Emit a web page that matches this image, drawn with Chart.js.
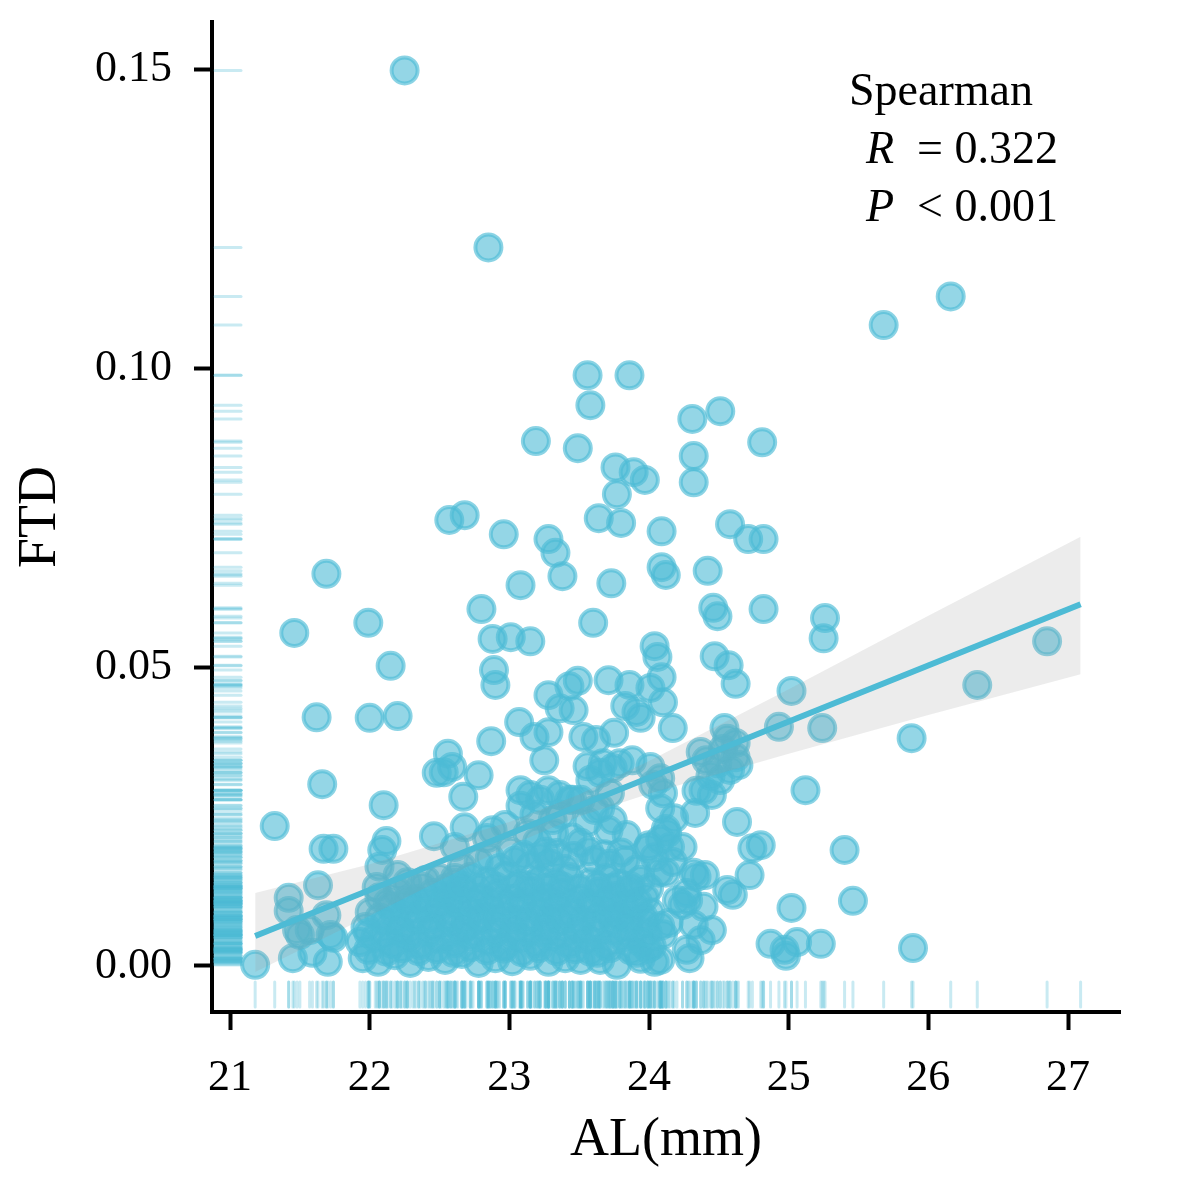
<!DOCTYPE html>
<html>
<head>
<meta charset="utf-8">
<script src="https://cdn.jsdelivr.net/npm/chart.js@4.4.1/dist/chart.umd.min.js"></script>
<style>
  html, body { margin: 0; padding: 0; background: #fff; }
  #wrap { width: 1181px; height: 1181px; }
</style>
</head>
<body>
<div id="wrap"><canvas id="chart"></canvas></div>
<script>
// AL (mm) of each eye
const alMm = [
  22.25, 22.85, 26.16, 25.68, 23.56, 23.86, 23.58, 24.31, 24.51, 23.19, 23.49, 24.81, 24.32, 24.32, 23.76, 23.89, 23.97, 23.77, 22.57, 22.68,
  23.64, 23.80, 24.09, 22.96, 24.58, 24.71, 24.82, 23.28, 23.33, 21.69, 23.38, 23.08, 23.73, 24.09, 24.12, 24.42, 22.80, 24.46, 24.49, 24.82,
  25.26, 25.25, 21.99, 21.46, 23.60, 22.88, 23.01, 23.15, 26.85, 22.15, 22.89, 22.90, 24.04, 24.06, 24.09, 24.47, 24.57, 24.62, 23.71, 23.86,
  24.01, 24.10, 23.28, 23.43, 23.49, 23.36, 23.46, 23.83, 23.91, 23.94, 24.17, 25.02, 26.35, 21.62, 22.00, 22.20, 23.07, 23.18, 23.28, 23.53,
  23.62, 23.75, 22.87, 24.54, 24.56, 24.93, 25.24, 25.88, 22.56, 22.59, 23.25, 22.48, 22.53, 22.78, 21.66, 22.67, 22.10, 21.32, 25.12,
  25.40, 25.46, 25.02, 25.23, 25.89, 21.18, 24.63, 24.80, 24.74, 24.60, 24.56, 24.87, 24.97, 25.06, 24.98, 21.42, 21.42, 21.45, 21.50, 21.63,
  21.67, 21.74, 21.57, 21.69, 21.70, 21.72, 21.74, 21.48, 22.12, 22.09, 22.07, 22.05, 21.59, 22.46, 22.68, 22.88, 22.84, 22.61, 22.20, 22.40, 22.61, 22.27, 22.58,
  23.08, 23.15, 23.28, 23.36, 23.43, 23.51, 23.08, 23.18, 23.37, 23.61, 23.56, 23.71, 23.84, 24.00, 24.04, 24.07, 24.17, 24.24, 24.32, 24.40, 24.27, 24.24, 24.32, 24.39, 24.45, 24.29, 24.27,
  23.88, 24.01, 24.08, 24.10, 24.08, 24.18, 24.12, 23.74, 23.65, 23.56, 23.58, 23.45, 24.37, 24.41, 24.44, 24.49, 24.53, 24.62, 24.64, 24.58, 24.51, 24.39, 24.45, 24.34, 24.62, 24.33, 24.15, 24.08, 24.72, 24.34,
  24.28, 24.37, 23.67, 23.79, 23.22, 23.72, 24.03, 23.65, 23.74, 22.97, 23.13, 23.31, 24.13, 23.99, 23.51, 23.61, 23.83, 23.91, 24.12, 24.20, 24.14, 23.91, 23.77, 23.63, 24.08, 23.51,
  21.95, 22.06, 22.18, 22.29, 22.42, 22.54, 22.66, 22.78, 22.90, 23.02, 23.15, 23.28, 23.40, 23.65, 23.94, 24.04,
  21.93, 22.04, 22.16, 22.27, 22.36, 22.50, 22.61, 22.72, 22.85, 22.96, 23.08, 23.20, 23.31, 23.43, 23.56, 23.69, 23.81, 23.94, 24.02,
  21.97, 22.11, 22.22, 22.35, 22.45, 22.58, 22.68, 22.79, 22.91, 23.03, 23.13, 23.26, 23.36, 23.48, 23.61, 23.74, 23.85, 23.97, 24.08,
  22.00, 22.15, 22.25, 22.40, 22.50, 22.63, 22.73, 22.86, 22.97, 23.09, 23.22, 23.33, 23.45, 23.58, 23.70, 23.79, 23.90, 24.01,
  22.07, 22.20, 22.33, 22.45, 22.56, 22.67, 22.79, 22.91, 23.02, 23.15, 23.26, 23.38, 23.51, 23.64, 23.76, 23.86, 23.97,
  22.27, 22.50, 22.61, 22.72, 22.84, 22.97, 23.08, 23.22, 23.33, 23.43, 23.58, 23.69, 23.79, 23.94,
  22.66, 22.78, 22.93, 23.04, 23.15, 23.29, 23.40, 23.72, 23.26, 23.01, 22.86,
  21.99, 22.12, 22.23, 22.35, 22.48, 22.60, 22.72, 22.84, 22.96, 23.09, 23.21, 23.34, 23.47, 23.58, 23.72, 23.87, 23.99,
  21.99, 22.10, 22.22, 22.31, 22.43, 22.55, 22.66, 22.78, 22.90, 23.02, 23.14, 23.26, 23.38, 23.50, 23.62, 23.75, 23.88, 23.99, 24.10,
  22.07, 22.19, 22.32, 22.44, 22.56, 22.69, 22.80, 22.92, 23.04, 23.16, 23.28, 23.40, 23.52, 23.64, 23.76, 23.86, 23.96,
  22.13, 22.26, 22.39, 22.51, 22.62, 22.74, 22.85, 22.97, 23.09, 23.21, 23.32, 23.45, 23.57, 23.70, 23.82, 23.92,
  22.38, 22.55, 22.66, 22.78, 22.90, 23.03, 23.15, 23.27, 23.38, 23.50, 23.63, 23.74, 23.87, 24.00,
  23.10, 23.22, 23.34, 23.46, 23.57, 23.68, 23.80, 23.45, 23.32, 23.20,
  27.09
];

// FTD of each eye, same order as alMm
const ftd = [
  0.1498, 0.1202, 0.1120, 0.1072, 0.0988, 0.0988, 0.0938, 0.0915, 0.0928, 0.0878, 0.0866, 0.0876, 0.0853, 0.0809, 0.0834, 0.0826, 0.0813, 0.0789, 0.0746, 0.0754,
  0.0749, 0.0741, 0.0727, 0.0722, 0.0739, 0.0714, 0.0714, 0.0714, 0.0691, 0.0656, 0.0652, 0.0637, 0.0640, 0.0667, 0.0654, 0.0661, 0.0597, 0.0599, 0.0585, 0.0597,
  0.0582, 0.0548, 0.0574, 0.0557, 0.0574, 0.0547, 0.0550, 0.0543, 0.0543, 0.0502, 0.0495, 0.0470, 0.0535, 0.0517, 0.0483, 0.0518, 0.0503, 0.0472, 0.0478, 0.0470,
  0.0465, 0.0441, 0.0453, 0.0468, 0.0477, 0.0431, 0.0428, 0.0435, 0.0425, 0.0415, 0.0398, 0.0460, 0.0470, 0.0416, 0.0415, 0.0418, 0.0408, 0.0383, 0.0391, 0.0383,
  0.0378, 0.0390, 0.0376, 0.0398, 0.0380, 0.0400, 0.0398, 0.0381, 0.0355, 0.0333, 0.0344, 0.0323, 0.0324, 0.0319, 0.0304, 0.0283, 0.0269, 0.0234, 0.0294,
  0.0194, 0.0109, 0.0097, 0.0037, 0.0030, 0.0002, 0.0241, 0.0202, 0.0197, 0.0119, 0.0127, 0.0037, 0.0027, 0.0040, 0.0017, 0.0114, 0.0092, 0.0013, 0.0052, 0.0135,
  0.0196, 0.0196, 0.0060, 0.0085, 0.0007, 0.0052, 0.0047, 0.0060, 0.0209, 0.0194, 0.0166, 0.0132, 0.0022, 0.0217, 0.0232, 0.0227, 0.0214, 0.0199, 0.0152, 0.0144, 0.0147, 0.0110, 0.0115,
  0.0294, 0.0286, 0.0294, 0.0286, 0.0278, 0.0278, 0.0268, 0.0253, 0.0253, 0.0261, 0.0241, 0.0227, 0.0219, 0.0202, 0.0182, 0.0156, 0.0174, 0.0199, 0.0156, 0.0152, 0.0122, 0.0102, 0.0069, 0.0099, 0.0060, 0.0013, 0.0027,
  0.0344, 0.0333, 0.0314, 0.0289, 0.0264, 0.0247, 0.0229, 0.0331, 0.0323, 0.0334, 0.0311, 0.0278, 0.0358, 0.0344, 0.0318, 0.0339, 0.0363, 0.0349, 0.0336, 0.0328, 0.0311, 0.0294, 0.0286, 0.0293, 0.0373, 0.0256, 0.0199, 0.0211, 0.0152, 0.0149,
  0.0110, 0.0043, 0.0339, 0.0339, 0.0278, 0.0289, 0.0303, 0.0264, 0.0244, 0.0236, 0.0222, 0.0244, 0.0222, 0.0197, 0.0206, 0.0177, 0.0177, 0.0161, 0.0156, 0.0110, 0.0072, 0.0022, 0.0002, 0.0022, 0.0010, 0.0010,
  0.0013, 0.0007, 0.0018, 0.0005, 0.0015, 0.0010, 0.0020, 0.0005, 0.0013, 0.0008, 0.0017, 0.0007, 0.0013, 0.0010, 0.0012, 0.0007,
  0.0040, 0.0047, 0.0037, 0.0048, 0.0035, 0.0045, 0.0038, 0.0050, 0.0042, 0.0033, 0.0047, 0.0038, 0.0050, 0.0037, 0.0045, 0.0035, 0.0048, 0.0040, 0.0033,
  0.0065, 0.0074, 0.0062, 0.0075, 0.0067, 0.0072, 0.0064, 0.0077, 0.0069, 0.0060, 0.0074, 0.0065, 0.0075, 0.0062, 0.0070, 0.0077, 0.0064, 0.0072, 0.0067,
  0.0090, 0.0099, 0.0087, 0.0097, 0.0092, 0.0102, 0.0089, 0.0095, 0.0085, 0.0100, 0.0090, 0.0097, 0.0087, 0.0100, 0.0092, 0.0085, 0.0099, 0.0090,
  0.0115, 0.0124, 0.0112, 0.0122, 0.0117, 0.0127, 0.0114, 0.0120, 0.0112, 0.0125, 0.0115, 0.0122, 0.0112, 0.0124, 0.0117, 0.0127, 0.0114,
  0.0140, 0.0147, 0.0139, 0.0149, 0.0142, 0.0151, 0.0137, 0.0145, 0.0139, 0.0149, 0.0140, 0.0147, 0.0137, 0.0144,
  0.0166, 0.0174, 0.0164, 0.0176, 0.0167, 0.0172, 0.0162, 0.0171, 0.0191, 0.0191, 0.0181,
  0.0027, 0.0024, 0.0030, 0.0025, 0.0028, 0.0022, 0.0031, 0.0026, 0.0029, 0.0023, 0.0030, 0.0025, 0.0028, 0.0024, 0.0030, 0.0026, 0.0029,
  0.0055, 0.0052, 0.0058, 0.0054, 0.0057, 0.0051, 0.0059, 0.0053, 0.0056, 0.0052, 0.0058, 0.0055, 0.0051, 0.0057, 0.0054, 0.0059, 0.0052, 0.0056, 0.0053,
  0.0081, 0.0078, 0.0083, 0.0079, 0.0082, 0.0077, 0.0084, 0.0080, 0.0078, 0.0083, 0.0079, 0.0082, 0.0077, 0.0081, 0.0084, 0.0078, 0.0082,
  0.0106, 0.0104, 0.0108, 0.0103, 0.0107, 0.0105, 0.0109, 0.0104, 0.0107, 0.0103, 0.0108, 0.0105, 0.0106, 0.0109, 0.0104, 0.0107,
  0.0132, 0.0130, 0.0134, 0.0129, 0.0133, 0.0131, 0.0135, 0.0130, 0.0133, 0.0129, 0.0134, 0.0131, 0.0133, 0.0130,
  0.0186, 0.0182, 0.0189, 0.0184, 0.0192, 0.0187, 0.0190, 0.0215, 0.0222, 0.0208,
  0.1700
];

// fitted line ends and the grey confidence band
const fitAl = [21.18, 27.09];
const fitFtd = [0.0050, 0.0605];
const bandAl = [21.18, 22.0, 23.0, 23.5, 24.0, 25.0, 26.0, 27.09];
const bandLow = [-0.0010, 0.0084, 0.0201, 0.0250, 0.0288, 0.0355, 0.0420, 0.0488];
const bandHigh = [0.0122, 0.0170, 0.0241, 0.0287, 0.0343, 0.0463, 0.0586, 0.0718];

const xTicks = [21, 22, 23, 24, 25, 26, 27];
const yTicks = [0.00, 0.05, 0.10, 0.15];
const xRange = [20.871, 27.372];
const yRange = [-0.0077, 0.1579];

const statLines = ['Spearman', ['R', '= 0.322'], ['P', '< 0.001']];

const blue = '#4DBBD5';
const serif = "'Liberation Serif', 'DejaVu Serif', serif";
Chart.defaults.font.family = serif;
Chart.defaults.color = '#000';

function pairs(xs, ys) {
  return xs.map((x, i) => ({ x: x, y: ys[i] }));
}

// rug marks along both axes, one per eye
const rugPlugin = {
  id: 'rug',
  beforeDatasetsDraw(chart) {
    const ctx = chart.ctx;
    const area = chart.chartArea;
    const xs = chart.scales.x, ys = chart.scales.y;
    ctx.save();
    ctx.strokeStyle = 'rgba(77,187,213,0.3)';
    ctx.lineWidth = 3;
    ctx.lineCap = 'round';
    for (let i = 0; i < alMm.length; i++) {
      const px = xs.getPixelForValue(alMm[i]);
      if (px > area.left && px < area.right) {
        ctx.beginPath();
        ctx.moveTo(px, area.bottom - 30);
        ctx.lineTo(px, area.bottom - 5);
        ctx.stroke();
      }
      const py = ys.getPixelForValue(ftd[i]);
      if (py > area.top && py < area.bottom) {
        ctx.beginPath();
        ctx.moveTo(area.left + 3, py);
        ctx.lineTo(area.left + 29, py);
        ctx.stroke();
      }
    }
    ctx.restore();
  }
};

// Spearman text, top right
const statPlugin = {
  id: 'stat',
  afterDraw(chart) {
    const ctx = chart.ctx;
    ctx.save();
    ctx.fillStyle = '#000';
    ctx.textBaseline = 'alphabetic';
    ctx.font = '46px ' + serif;
    ctx.textAlign = 'left';
    ctx.fillText(statLines[0], 849, 105);
    const rows = [statLines[1], statLines[2]];
    const base = [163, 221];
    rows.forEach((r, i) => {
      ctx.font = 'italic 46px ' + serif;
      ctx.textAlign = 'left';
      ctx.fillText(r[0], 866, base[i]);
      ctx.font = '46px ' + serif;
      ctx.textAlign = 'right';
      ctx.fillText(r[1], 1058, base[i]);
    });
    ctx.restore();
  }
};

new Chart(document.getElementById('chart'), {
  type: 'scatter',
  data: {
    datasets: [
      {
        data: pairs(alMm, ftd),
        backgroundColor: 'rgba(77,187,213,0.6)',
        borderColor: 'rgba(77,187,213,0.65)',
        borderWidth: 4,
        pointRadius: 13,
        order: 3
      },
      {
        type: 'line',
        data: pairs(bandAl, bandLow),
        borderWidth: 0,
        pointRadius: 0,
        fill: false,
        order: 2
      },
      {
        type: 'line',
        data: pairs(bandAl, bandHigh),
        borderWidth: 0,
        pointRadius: 0,
        backgroundColor: 'rgba(150,150,150,0.18)',
        fill: '-1',
        order: 2
      },
      {
        type: 'line',
        data: pairs(fitAl, fitFtd),
        borderColor: blue,
        borderWidth: 6,
        pointRadius: 0,
        fill: false,
        order: 1
      }
    ]
  },
  options: {
    responsive: true,
    maintainAspectRatio: false,
    animation: false,
    events: [],
    layout: { padding: { left: 0, top: 22, right: 61, bottom: 0 } },
    plugins: { legend: { display: false }, tooltip: { enabled: false } },
    scales: {
      x: {
        type: 'linear',
        min: xRange[0],
        max: xRange[1],
        afterBuildTicks: s => { s.ticks = xTicks.map(v => ({ value: v })); },
        afterFit: s => { s.height = 169; s.paddingLeft = 0; s.paddingRight = 0; },
        border: { display: true, color: '#000', width: 4 },
        grid: { drawOnChartArea: false, drawTicks: true, tickLength: 18, tickWidth: 4, tickColor: '#000' },
        ticks: { font: { size: 44, lineHeight: 1 }, color: '#000', padding: 26, callback: v => String(v) },
        title: { display: true, text: 'AL(mm)', font: { size: 54 }, color: '#000', padding: { top: 0, bottom: 8 } }
      },
      y: {
        type: 'linear',
        min: yRange[0],
        max: yRange[1],
        afterBuildTicks: s => { s.ticks = yTicks.map(v => ({ value: v })); },
        afterFit: s => { s.width = 212; s.paddingTop = 0; s.paddingBottom = 0; },
        border: { display: true, color: '#000', width: 4 },
        grid: { drawOnChartArea: false, drawTicks: true, tickLength: 18, tickWidth: 4, tickColor: '#000' },
        ticks: { font: { size: 44, lineHeight: 1 }, color: '#000', padding: 22, callback: v => Number(v).toFixed(2) },
        title: { display: true, text: 'FTD', font: { size: 54 }, color: '#000', padding: { top: 8, bottom: 0 } }
      }
    }
  },
  plugins: [rugPlugin, statPlugin]
});
</script>
</body>
</html>
